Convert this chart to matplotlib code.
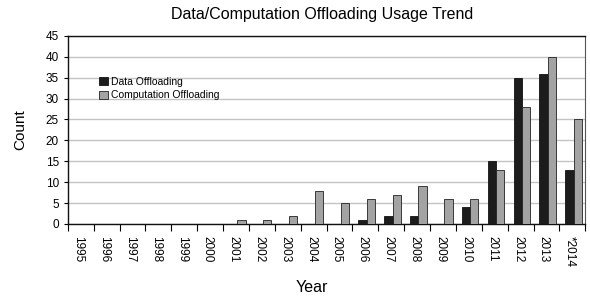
import numpy as np
import matplotlib
matplotlib.use("Agg")
import matplotlib.pyplot as plt

plt.rcParams['font.family'] = ['Liberation Sans', 'DejaVu Sans']

years = ['1995', '1996', '1997', '1998', '1999', '2000', '2001', '2002', '2003', '2004',
         '2005', '2006', '2007', '2008', '2009', '2010', '2011', '2012', '2013', '*2014']
data_off = [0, 0, 0, 0, 0, 0, 0, 0, 0, 0, 0, 1, 2, 2, 0, 4, 15, 35, 36, 13]
comp_off = [0, 0, 0, 0, 0, 0, 1, 1, 2, 8, 5, 6, 7, 9, 6, 6, 13, 28, 40, 25]

fig = plt.figure(figsize=(5.9, 2.97), dpi=100)
ax = fig.add_axes([0.115, 0.246, 0.877, 0.633])

x = np.arange(len(years))
w = 0.32
ax.bar(x + 0.05 - w/2, data_off, w, color='#1c1c1c', edgecolor='#111111', lw=0.6,
       label='Data Offloading', zorder=3)
ax.bar(x + 0.05 + w/2, comp_off, w, color='#a3a3a3', edgecolor='#222222', lw=0.6,
       label='Computation Offloading', zorder=3)

ax.set_xlim(-0.5, len(years) - 0.5)
ax.set_ylim(0, 45)
ax.set_yticks(range(0, 46, 5))
ax.yaxis.grid(True, color='#c4c4c4', lw=1.0, zorder=0)
ax.tick_params(axis='y', labelsize=8.5, length=3, width=0.8)

ax.set_xticks(np.arange(-0.5, len(years), 1))
ax.set_xticklabels([])
ax.tick_params(axis='x', which='major', length=5, width=0.8, direction='out')
ax.set_xticks(x - 0.1, minor=True)
ax.set_xticklabels(years, minor=True, rotation=270, fontsize=8.5)
ax.tick_params(axis='x', which='minor', length=0, pad=9)

for s in ['left', 'bottom', 'top']:
    ax.spines[s].set_color('#111111')
    ax.spines[s].set_linewidth(1.0)
ax.spines['right'].set_color('#555555')
ax.spines['right'].set_linewidth(0.8)

fig.text(0.546, 1 - 14/297, 'Data/Computation Offloading Usage Trend', fontsize=11.5,
         ha='center', va='center')
ax.set_ylabel('Count', fontsize=11)
ax.yaxis.set_label_coords(-0.078, 0.5)
ax.set_xlabel('Year', fontsize=11.5)
ax.xaxis.set_label_coords(0.472, -0.30)

ax.legend(loc='upper left', bbox_to_anchor=(0.053, 0.805), frameon=False, fontsize=7.5,
          handlelength=0.8, handleheight=0.8, handletextpad=0.35, labelspacing=0.35,
          borderaxespad=0)

fig.savefig('out.png', dpi=100)
